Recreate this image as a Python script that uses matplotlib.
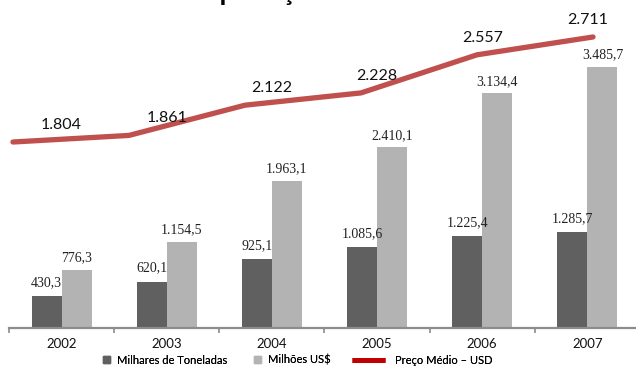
import matplotlib
matplotlib.use("Agg")
import matplotlib.pyplot as plt
import matplotlib.transforms as mtransforms
from matplotlib.lines import Line2D
from matplotlib.patches import Rectangle
from matplotlib.legend_handler import HandlerPatch
import numpy as np

years = ["2002", "2003", "2004", "2005", "2006", "2007"]
toneladas = [430.3, 620.1, 925.1, 1085.6, 1225.4, 1285.7]
milhoes_usd = [776.3, 1154.5, 1963.1, 2410.1, 3134.4, 3485.7]
preco_medio = [1804, 1861, 2122, 2228, 2557, 2711]

legend_labels = ["Milhares de Toneladas", "Milhões US$", "Preço Médio – USD"]
title = "Exportações"

dark = "#606060"
light = "#b3b3b3"
red = "#c0504d"
axis_gray = "#8c8c8c"


def fmt_br(v, decimals):
    s = f"{v:,.{decimals}f}"
    return s.replace(",", "X").replace(".", ",").replace("X", ".")


W, H = 636, 368
fig = plt.figure(figsize=(W / 100, H / 100), dpi=100)

# bar axes: baseline at y=328px, categories from x=9px
left, bottom = 9 / W, (H - 328) / H
width, height = 631 / W, 318 / H
ax = fig.add_axes([left, bottom, width, height])
ax2 = fig.add_axes([left, bottom, width, height])
ax2.patch.set_visible(False)

x = np.arange(len(years))
bw = 0.285
b1 = ax.bar(x - bw / 2, toneladas, bw, color=dark, zorder=2)
b2 = ax.bar(x + bw / 2, milhoes_usd, bw, color=light, zorder=2)
ax.set_xlim(-0.5, 5.5)
ax.set_ylim(0, 4246)

for rect, v in zip(b1, toneladas):
    ax.annotate(fmt_br(v, 1), (rect.get_x() + rect.get_width() / 2, v),
                xytext=(0, 5), textcoords="offset points", ha="center", va="bottom",
                fontsize=10, family="Liberation Serif", color="#222222")
for rect, v in zip(b2, milhoes_usd):
    ax.annotate(fmt_br(v, 1), (rect.get_x() + rect.get_width() / 2, v),
                xytext=(0, 4), textcoords="offset points", ha="center", va="bottom",
                fontsize=10, family="Liberation Serif", color="#222222")

# axis styling
for s in ["top", "right", "left"]:
    ax.spines[s].set_visible(False)
ax.spines["bottom"].set_color(axis_gray)
ax.spines["bottom"].set_linewidth(1.6)
ax.set_yticks([])
ax.set_xticks(x)
ax.set_xticklabels(years, fontsize=9.5, family="Lato", color="#111111")
ax.set_xticks(np.arange(-0.5, 5.6, 1.0), minor=True)
ax.tick_params(axis="x", which="major", length=0, pad=7)
ax.tick_params(axis="x", which="minor", length=3.5, width=1.2, color=axis_gray)

# price line on its own scale
ax2.plot(x, preco_medio, color=red, linewidth=3.8, solid_capstyle="round",
         solid_joinstyle="round", zorder=3)
ax2.set_xlim(-0.034, 5.405)
ax2.set_ylim(198, 2944)
ax2.axis("off")

# labels above the line, centred on the bar categories
trans = mtransforms.blended_transform_factory(ax.transData, ax2.transData)
trans = mtransforms.offset_copy(trans, fig=fig, x=0, y=17, units="dots")
for xi, v in zip(x, preco_medio):
    ax2.text(xi, v, fmt_br(v, 0), transform=trans, ha="center", va="center",
             fontsize=11.5, family="Lato", color="#111111")


# legend: one entry per legend so the gaps can follow the reference
def square(legend, orig_handle, xdescent, ydescent, width, height, fontsize):
    s = 5.2
    return Rectangle((-xdescent + width - s, -ydescent + (height - s) / 2), s, s)


h1 = Rectangle((0, 0), 1, 1, color=dark)
h2 = Rectangle((0, 0), 1, 1, color=light)
h3 = Line2D([], [], color="#c00000", linewidth=3.5, solid_capstyle="butt")
entries = [(h1, 99, 1.0, 0.6), (h2, 250, 1.0, 0.6), (h3, 352, 3.0, 0.9)]
leg_y = 1 - 360 / H
for (h, x0, hl, pad), lab in zip(entries, legend_labels):
    hm = {h: HandlerPatch(patch_func=square)} if isinstance(h, Rectangle) else None
    leg = fig.legend([h], [lab], loc="center left", bbox_to_anchor=(x0 / W, leg_y),
                     frameon=False, prop={"family": "Lato", "size": 8},
                     handlelength=hl, handletextpad=pad, borderpad=0,
                     borderaxespad=0, handler_map=hm)
    fig.add_artist(leg)

# title cut off by the top edge in the reference: only descenders show
fig.text(189 / W, 1.0, title, ha="left", va="baseline", fontsize=18,
         fontweight="bold", family="Liberation Sans", color="black")

fig.savefig("out.png", dpi=100)
